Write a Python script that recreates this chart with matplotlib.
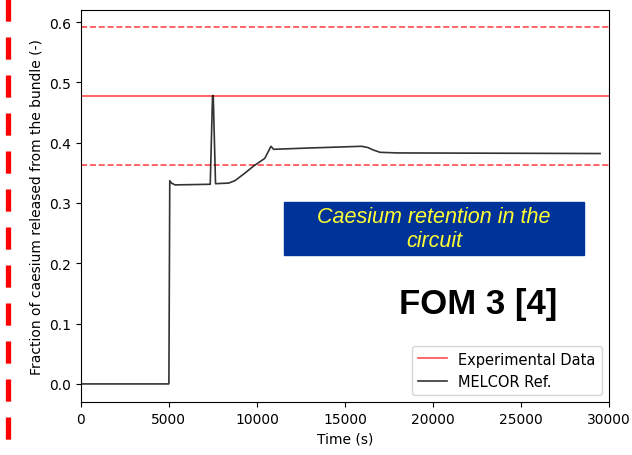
import numpy as np
import matplotlib.pyplot as plt
from matplotlib.patches import Rectangle
from matplotlib.lines import Line2D

# Experimental value and uncertainty band
exp_value = 0.477
exp_upper = 0.591
exp_lower = 0.363

# MELCOR reference curve
time_s = [0, 5000, 5050, 5150, 5350, 7350, 7480, 7520, 7650, 8400, 8750,
          9300, 9800, 10450, 10800, 10950, 12800, 15950, 16300, 16600,
          17000, 18000, 29500]
fraction = [0.0, 0.0, 0.337, 0.333, 0.330, 0.331, 0.478, 0.478, 0.332,
            0.333, 0.337, 0.349, 0.361, 0.374, 0.394, 0.389, 0.391, 0.394,
            0.392, 0.388, 0.384, 0.383, 0.382]

fig = plt.figure(figsize=(6.32, 4.56), dpi=100)
ax = fig.add_axes([0.128, 0.1162, 0.8354, 0.8597])

ax.axhline(exp_value, color='red', alpha=0.7, lw=1.2, label='Experimental Data')
ax.axhline(exp_upper, color='red', alpha=0.7, lw=1.2, ls='--')
ax.axhline(exp_lower, color='red', alpha=0.7, lw=1.2, ls='--')
ax.plot(time_s, fraction, color='black', alpha=0.8, lw=1.2, label='MELCOR Ref.')

ax.set_xlim(0, 30000)
ax.set_ylim(-0.03, 0.62)
ax.set_xlabel('Time (s)')
ax.set_ylabel('Fraction of caesium released from the bundle (-)')
ax.legend(loc='lower right', fontsize=10.5)

# blue text box
fig.patches.append(Rectangle((0.449, 0.4386), 0.475, 0.116,
                             transform=fig.transFigure, color='#003399', zorder=5))
fig.text(0.687, 0.496, 'Caesium retention in the\ncircuit', color='#ffff33',
         family='Liberation Sans', style='italic', fontsize=15.5,
         ha='center', va='center', linespacing=1.2, zorder=6)

fig.text(0.756, 0.333, 'FOM 3 [4]', family='Liberation Sans', weight='bold',
         fontsize=25, ha='center', va='center')

# red dashed separator on the left
fig.lines.append(Line2D([0.0127, 0.0127], [1.0, 0.0], transform=fig.transFigure,
                        color='red', lw=3.8, linestyle=(0, (4.2, 3.0))))

fig.savefig('out.png')
